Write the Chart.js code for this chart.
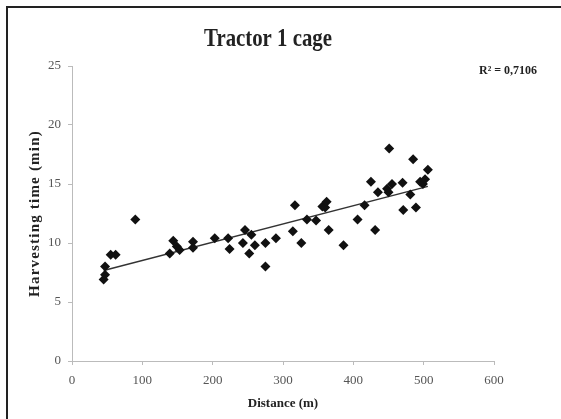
<!DOCTYPE html>
<html>
<head>
<meta charset="utf-8">
<script src="https://cdn.jsdelivr.net/npm/chart.js@4/dist/chart.umd.min.js"></script>
<style>
  body { margin: 0; background: #fff; }
  #wrap { position: relative; width: 561px; height: 419px; overflow: hidden; }
  #frame { position: absolute; left: 6px; top: 6px; right: 0; bottom: 0;
           border-top: 2px solid #222; border-left: 2px solid #222; }
  canvas { position: absolute; left: 0; top: 0; }
</style>
</head>
<body>
<div id="wrap">
  <div id="frame"></div>
  <canvas id="myChart" width="561" height="419"></canvas>
</div>
<script>
const distance = [45, 47, 47, 55, 62, 90,
  139, 144, 149, 153, 172, 172,
  203, 222, 224, 243, 246, 252, 255, 260, 275, 275, 290,
  314, 317, 326, 334, 347, 356, 360, 362, 365, 386,
  406, 416, 425, 431, 435, 448, 451, 455, 450,
  470, 471, 481, 485, 489, 495, 499, 502, 506];
const harvestTime = [6.9, 7.3, 8.0, 9.0, 9.0, 12.0,
  9.1, 10.2, 9.7, 9.4, 10.1, 9.6,
  10.4, 10.4, 9.5, 10.0, 11.1, 9.1, 10.7, 9.8, 10.0, 8.0, 10.4,
  11.0, 13.2, 10.0, 12.0, 11.9, 13.1, 13.0, 13.5, 11.1, 9.8,
  12.0, 13.2, 15.2, 11.1, 14.3, 14.6, 18.0, 15.0, 14.3,
  15.1, 12.8, 14.1, 17.1, 13.0, 15.2, 15.0, 15.4, 16.2];
const xTicks = [0, 100, 200, 300, 400, 500, 600];
const yTicks = [0, 5, 10, 15, 20, 25];
const chartTitle = 'Tractor 1 cage';
const xTitle = 'Distance (m)';
const yTitle = 'Harvesting time (min)';
const rSquaredLabel = 'R² = 0,7106';

const serif = "'Liberation Serif', 'Times New Roman', serif";

// least squares trend line over the points
const n = distance.length;
let sx = 0, sy = 0, sxy = 0, sxx = 0;
for (let i = 0; i < n; i++) {
  sx += distance[i]; sy += harvestTime[i];
  sxy += distance[i] * harvestTime[i]; sxx += distance[i] * distance[i];
}
const slope = (n * sxy - sx * sy) / (n * sxx - sx * sx);
const intercept = (sy - slope * sx) / n;
const xMin = Math.min(...distance), xMax = Math.max(...distance);

const points = distance.map((d, i) => ({x: d, y: harvestTime[i]}));

// title, y title and R² label drawn by hand so they can be squeezed / spaced like the original
const extraText = {
  id: 'extraText',
  afterDraw(chart) {
    const ctx = chart.ctx;
    const area = chart.chartArea;
    ctx.save();
    ctx.fillStyle = '#222';
    ctx.textAlign = 'center';
    ctx.textBaseline = 'alphabetic';
    ctx.font = 'bold 26px ' + serif;
    ctx.translate(268, 46);
    ctx.scale(0.8, 1);
    ctx.fillText(chartTitle, 0, 0);
    ctx.restore();

    ctx.save();
    ctx.fillStyle = '#222';
    ctx.font = 'bold 15px ' + serif;
    ctx.letterSpacing = '1.2px';
    ctx.textAlign = 'center';
    ctx.textBaseline = 'middle';
    ctx.translate(35, (area.top + area.bottom) / 2);
    ctx.rotate(-Math.PI / 2);
    ctx.fillText(yTitle, 0, 0);
    ctx.restore();

    ctx.save();
    ctx.font = 'bold 12px ' + serif;
    ctx.fillStyle = '#222';
    ctx.textAlign = 'left';
    ctx.textBaseline = 'middle';
    ctx.fillText(rSquaredLabel, 479, 71);
    ctx.restore();
  }
};

new Chart(document.getElementById('myChart').getContext('2d'), {
  type: 'scatter',
  data: {
    datasets: [{
      data: points,
      pointStyle: 'rectRot',
      pointRadius: 5,
      backgroundColor: '#111',
      borderColor: '#111',
      borderWidth: 0
    }, {
      data: [{x: xMin, y: intercept + slope * xMin}, {x: xMax, y: intercept + slope * xMax}],
      showLine: true,
      pointRadius: 0,
      borderColor: '#333',
      borderWidth: 1.5
    }]
  },
  options: {
    responsive: false,
    animation: false,
    devicePixelRatio: 1,
    layout: { padding: { left: 0, right: 67, top: 66, bottom: 0 } },
    plugins: {
      legend: { display: false },
      tooltip: { enabled: false },
      title: { display: false }
    },
    scales: {
      x: {
        type: 'linear',
        min: 0,
        max: 600,
        afterBuildTicks: (scale) => { scale.ticks = xTicks.map(v => ({value: v})); },
        afterFit: (scale) => { scale.height = 58; },
        ticks: { color: '#555', padding: 8, font: { family: serif, size: 13 } },
        grid: { drawOnChartArea: false, tickLength: 4, color: '#bbb' },
        border: { color: '#bbb' },
        title: {
          display: true,
          text: xTitle,
          color: '#222',
          font: { family: serif, size: 13, weight: 'bold' },
          padding: { top: 4, bottom: 8 }
        }
      },
      y: {
        min: 0,
        max: 25,
        afterBuildTicks: (scale) => { scale.ticks = yTicks.map(v => ({value: v})); },
        afterFit: (scale) => { scale.width = 72; },
        ticks: { color: '#555', padding: 7, font: { family: serif, size: 13 } },
        grid: { drawOnChartArea: false, tickLength: 4, color: '#bbb' },
        border: { color: '#bbb' },
        title: { display: false }
      }
    }
  },
  plugins: [extraText]
});
</script>
</body>
</html>
